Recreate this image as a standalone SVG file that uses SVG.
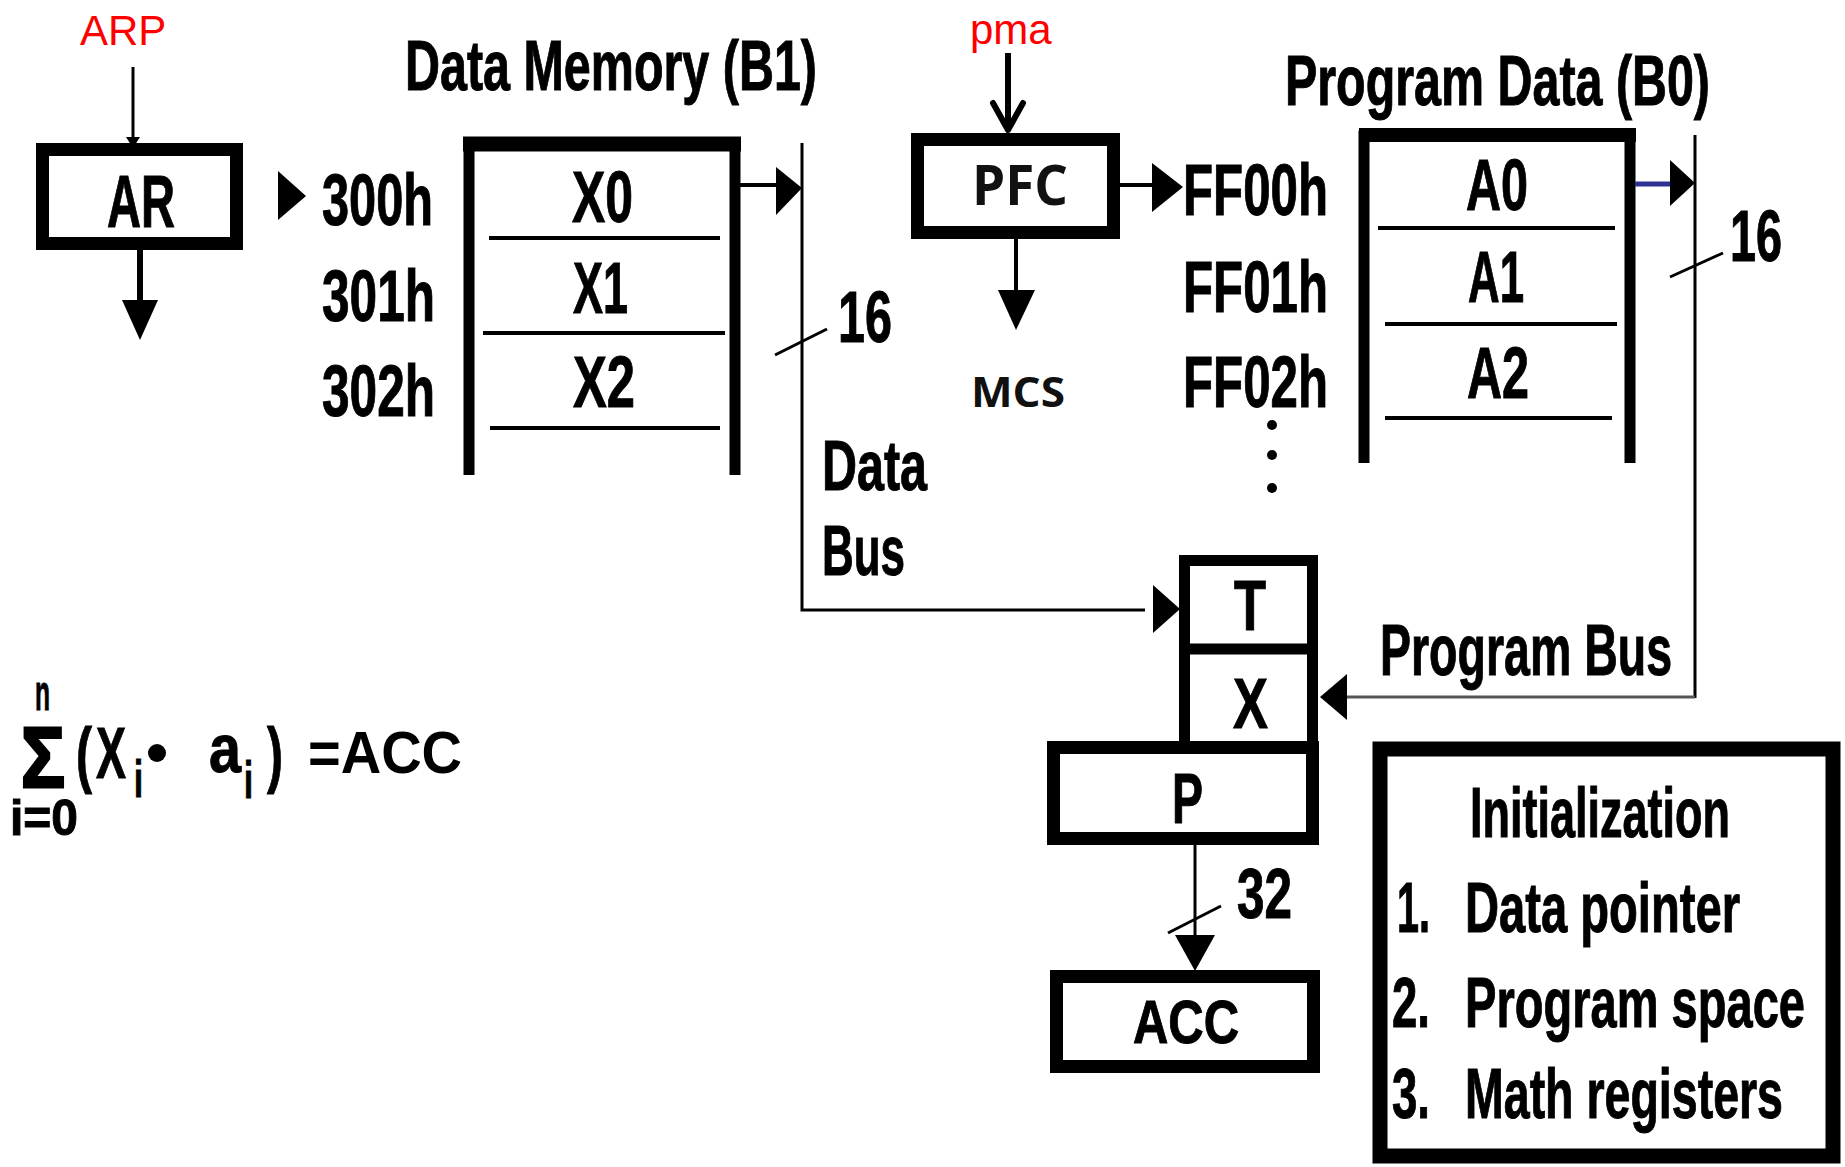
<svg xmlns="http://www.w3.org/2000/svg" width="1845" height="1167" viewBox="0 0 1845 1167">
<style>
.t{font-family:"Liberation Sans",Arial,sans-serif;font-weight:bold;fill:#000;stroke:#000;stroke-width:1}
.red{font-family:"Liberation Sans",Arial,sans-serif;font-weight:normal;fill:#ff0000;font-size:42px}
.clean{font-family:"Open Sans","Noto Sans",sans-serif;font-weight:bold;fill:#111}
.box{fill:none;stroke:#000;stroke-width:13}
.wall{fill:none;stroke:#000;stroke-width:11}
.div{stroke:#000;stroke-width:4}
.bus{fill:none;stroke:#000;stroke-width:3}
.gbus{fill:none;stroke:#555;stroke-width:3}
.ln{fill:none;stroke:#000;stroke-width:4}
.head{fill:#000;stroke:none}
</style>
<rect width="1845" height="1167" fill="#fff"/>

<g id="labels-top">
<text class="red" x="80" y="45">ARP</text>
<text class="red" x="970" y="44">pma</text>
<text class="t" x="405" y="90" font-size="70" textLength="412" lengthAdjust="spacingAndGlyphs">Data Memory (B1)</text>
<text class="t" x="1285" y="105" font-size="70" textLength="425" lengthAdjust="spacingAndGlyphs">Program Data (B0)</text>
</g>

<g id="node-AR">
<rect class="box" x="42.5" y="149.5" width="194" height="94"/>
<text class="t" x="107" y="227" font-size="75" textLength="68" lengthAdjust="spacingAndGlyphs">AR</text>
</g>

<g id="addresses-B1">
<text class="t" x="322" y="225" font-size="72" textLength="111" lengthAdjust="spacingAndGlyphs">300h</text>
<text class="t" x="322" y="321" font-size="72" textLength="113" lengthAdjust="spacingAndGlyphs">301h</text>
<text class="t" x="322" y="416" font-size="72" textLength="113" lengthAdjust="spacingAndGlyphs">302h</text>
</g>

<g id="node-data-memory">
<path class="wall" d="M469,475 V144 H735 V475"/>
<line x1="463" y1="144" x2="741" y2="144" stroke="#000" stroke-width="15"/>
<line class="div" x1="489" y1="238" x2="720" y2="238"/>
<line class="div" x1="483" y1="333" x2="725" y2="333"/>
<line class="div" x1="490" y1="428" x2="720" y2="428"/>
<text class="t" x="572" y="222" font-size="72" textLength="61" lengthAdjust="spacingAndGlyphs">X0</text>
<text class="t" x="573" y="313" font-size="72" textLength="55" lengthAdjust="spacingAndGlyphs">X1</text>
<text class="t" x="573" y="407" font-size="72" textLength="62" lengthAdjust="spacingAndGlyphs">X2</text>
</g>

<g id="node-PFC">
<rect class="box" x="917.5" y="139.5" width="196" height="93"/>
<text class="clean" x="972" y="205" font-size="56" textLength="96" lengthAdjust="spacingAndGlyphs">PFC</text>
</g>

<g id="label-MCS">
<text class="clean" x="971" y="407" font-size="41" textLength="94" lengthAdjust="spacingAndGlyphs">MCS</text>
</g>

<g id="addresses-B0">
<text class="t" x="1183" y="215" font-size="72" textLength="145" lengthAdjust="spacingAndGlyphs">FF00h</text>
<text class="t" x="1183" y="312" font-size="72" textLength="145" lengthAdjust="spacingAndGlyphs">FF01h</text>
<text class="t" x="1183" y="407" font-size="72" textLength="145" lengthAdjust="spacingAndGlyphs">FF02h</text>
<circle cx="1272" cy="425" r="5"/>
<circle cx="1272" cy="455" r="5"/>
<circle cx="1272" cy="488" r="5"/>
</g>

<g id="node-program-data">
<path class="wall" d="M1364,463 V136 H1630 V463"/>
<line x1="1359" y1="135" x2="1636" y2="135" stroke="#000" stroke-width="14"/>
<line class="div" x1="1378" y1="228" x2="1615" y2="228"/>
<line class="div" x1="1385" y1="324" x2="1617" y2="324"/>
<line class="div" x1="1385" y1="418" x2="1612" y2="418"/>
<text class="t" x="1466" y="210" font-size="72" textLength="62" lengthAdjust="spacingAndGlyphs">A0</text>
<text class="t" x="1468" y="302" font-size="72" textLength="56" lengthAdjust="spacingAndGlyphs">A1</text>
<text class="t" x="1467" y="398" font-size="72" textLength="62" lengthAdjust="spacingAndGlyphs">A2</text>
</g>

<g id="bus-labels">
<text class="t" x="838" y="342" font-size="72" textLength="54" lengthAdjust="spacingAndGlyphs">16</text>
<text class="t" x="1730" y="261" font-size="72" textLength="52" lengthAdjust="spacingAndGlyphs">16</text>
<text class="t" x="822" y="490" font-size="70" textLength="105" lengthAdjust="spacingAndGlyphs">Data</text>
<text class="t" x="822" y="575" font-size="70" textLength="83" lengthAdjust="spacingAndGlyphs">Bus</text>
<text class="t" x="1380" y="675" font-size="72" textLength="292" lengthAdjust="spacingAndGlyphs">Program Bus</text>
<text class="t" x="1237" y="918" font-size="70" textLength="55" lengthAdjust="spacingAndGlyphs">32</text>
</g>

<g id="node-TX">
<rect class="wall" x="1184.5" y="560.5" width="128" height="186"/>
<line x1="1180" y1="649" x2="1318" y2="649" stroke="#000" stroke-width="11"/>
<text class="t" x="1234" y="630" font-size="70" textLength="32" lengthAdjust="spacingAndGlyphs">T</text>
<text class="t" x="1233" y="728" font-size="70" textLength="35" lengthAdjust="spacingAndGlyphs">X</text>
</g>

<g id="node-P">
<rect class="box" x="1053.5" y="747.5" width="259" height="91"/>
<text class="t" x="1172" y="823" font-size="70" textLength="31" lengthAdjust="spacingAndGlyphs">P</text>
</g>

<g id="node-ACC">
<rect class="box" x="1056.5" y="976.5" width="257" height="90"/>
<text class="t" x="1133" y="1043" font-size="62" textLength="106" lengthAdjust="spacingAndGlyphs">ACC</text>
</g>

<g id="node-initialization">
<rect x="1380" y="749" width="453" height="407" fill="none" stroke="#000" stroke-width="15"/>
<text class="t" x="1470" y="837" font-size="70" textLength="260" lengthAdjust="spacingAndGlyphs">Initialization</text>
<text class="t" x="1397" y="932" font-size="70" textLength="33" lengthAdjust="spacingAndGlyphs">1.</text>
<text class="t" x="1465" y="932" font-size="70" textLength="275" lengthAdjust="spacingAndGlyphs">Data pointer</text>
<text class="t" x="1392" y="1027" font-size="70" textLength="38" lengthAdjust="spacingAndGlyphs">2.</text>
<text class="t" x="1465" y="1027" font-size="70" textLength="340" lengthAdjust="spacingAndGlyphs">Program space</text>
<text class="t" x="1392" y="1118" font-size="70" textLength="38" lengthAdjust="spacingAndGlyphs">3.</text>
<text class="t" x="1465" y="1118" font-size="70" textLength="318" lengthAdjust="spacingAndGlyphs">Math registers</text>
</g>

<g id="formula">
<text class="t" x="35" y="710" font-size="50" textLength="15" lengthAdjust="spacingAndGlyphs">n</text>
<text class="t" x="21" y="787" font-size="86" textLength="44" lengthAdjust="spacingAndGlyphs" style="stroke-width:3">Σ</text>
<text class="t" x="10" y="835" font-size="50" textLength="68" lengthAdjust="spacingAndGlyphs">i=0</text>
<text class="t" x="76" y="779" font-size="72" textLength="16" lengthAdjust="spacingAndGlyphs">(</text>
<text class="t" x="96" y="778" font-size="72" textLength="30" lengthAdjust="spacingAndGlyphs">X</text>
<text class="t" x="134" y="797" font-size="52" textLength="9" lengthAdjust="spacingAndGlyphs">i</text>
<circle cx="157" cy="753" r="9"/>
<text class="t" x="209" y="772" font-size="68" textLength="32" lengthAdjust="spacingAndGlyphs">a</text>
<text class="t" x="244" y="798" font-size="52" textLength="9" lengthAdjust="spacingAndGlyphs">i</text>
<text class="t" x="267" y="779" font-size="72" textLength="16" lengthAdjust="spacingAndGlyphs">)</text>
<text class="t" x="308" y="773" font-size="60" textLength="154" lengthAdjust="spacingAndGlyphs" style="stroke-width:0">=ACC</text>
</g>

<g id="connectors">
<line x1="133" y1="67" x2="133" y2="140" stroke="#000" stroke-width="3"/>
<polygon class="head" points="126,137 140,137 133,148"/>
<line x1="140" y1="248" x2="140" y2="302" stroke="#000" stroke-width="6"/>
<polygon class="head" points="122,300 158,300 140,340"/>
<polygon class="head" points="278,171 278,220 306,196"/>
<line class="ln" x1="740" y1="185" x2="778" y2="185"/>
<polygon class="head" points="776,167 776,215 802,188"/>
<polyline class="bus" points="802,143 802,610 1145,610"/>
<line class="bus" x1="775" y1="355" x2="827" y2="329"/>
<polygon class="head" points="1153,585 1153,633 1180,609"/>
<line x1="1008" y1="53" x2="1008" y2="128" stroke="#000" stroke-width="6"/>
<polyline points="993,103 1008,130 1023,103" fill="none" stroke="#000" stroke-width="6" stroke-linecap="round" stroke-linejoin="round"/>
<line class="ln" x1="1120" y1="185" x2="1155" y2="185"/>
<polygon class="head" points="1152,163 1152,212 1183,187"/>
<line class="ln" x1="1016" y1="238" x2="1016" y2="292"/>
<polygon class="head" points="998,290 1035,290 1016,330"/>
<line x1="1635" y1="184" x2="1672" y2="184" stroke="#2e3192" stroke-width="5"/>
<polygon class="head" points="1670,160 1670,206 1695,183"/>
<line class="bus" x1="1695" y1="135" x2="1695" y2="698"/>
<line class="bus" x1="1670" y1="277" x2="1723" y2="253"/>
<line class="gbus" x1="1345" y1="697" x2="1695" y2="697"/>
<polygon class="head" points="1347,674 1347,720 1320,697"/>
<line class="bus" x1="1195" y1="844" x2="1195" y2="940"/>
<line class="bus" x1="1168" y1="933" x2="1221" y2="906"/>
<polygon class="head" points="1175,935 1215,935 1195,971"/>
</g>
</svg>
